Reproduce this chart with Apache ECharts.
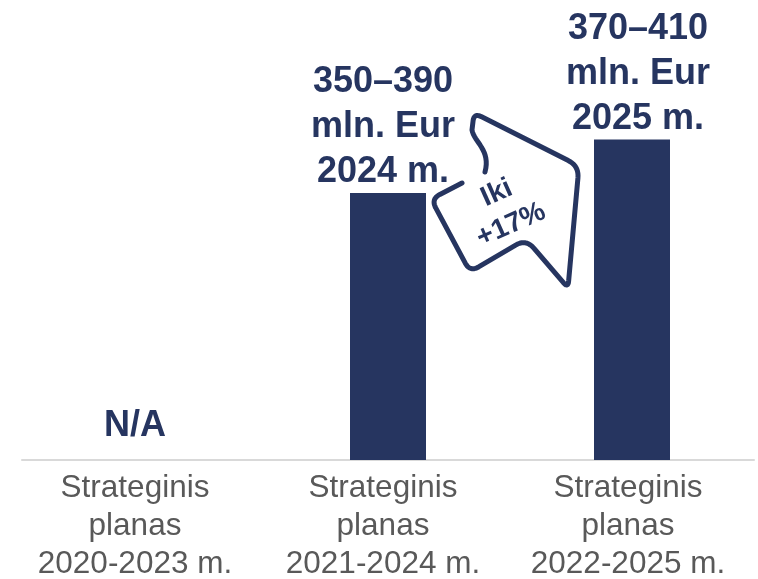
<!DOCTYPE html>
<html>
<head>
<meta charset="utf-8">
<script src="https://cdn.jsdelivr.net/npm/echarts@6/dist/echarts.min.js"></script>
<style>
html,body{margin:0;padding:0;background:#fff;}
#c{width:758px;height:579px;}
</style>
</head>
<body>
<div id="c"></div>
<script>
const categories = ['Strateginis\nplanas\n2020-2023 m.', 'Strateginis\nplanas\n2021-2024 m.', 'Strateginis\nplanas\n2022-2025 m.'];
const barValues = [null, 370, 390];
const valueLabels = ['N/A', '350–390\nmln. Eur\n2024 m.', '370–410\nmln. Eur\n2025 m.'];
const changeText = 'Iki\n+17%';

const NAVY = '#263560';
const FONT = "'Liberation Sans', Arial, sans-serif";
const yMin = 270, yMax = 440;
const labelShift = [-9, -5, 6];
const catShift = [-9, -5, -4];

const chart = echarts.init(document.getElementById('c'), null, {renderer: 'canvas'});

const seriesData = barValues.map((v, i) => {
  if (v === null) {
    return {value: yMin, label: {show: true, formatter: valueLabels[i], distance: 11, offset: [labelShift[i], 0]}};
  }
  return {value: v, label: {show: true, formatter: valueLabels[i], distance: -2, offset: [labelShift[i], 0]}};
});

const xData = categories.map((c, i) => ({value: c, textStyle: {padding: [0, -2 * catShift[i], 0, 0]}}));

// arrow outline helper (rounded corners)
function roundedPolyline(pts, radii) {
  const out = [pts[0]];
  for (let i = 1; i < pts.length - 1; i++) {
    const a = pts[i - 1], p = pts[i], b = pts[i + 1];
    const r = radii[i] || 0;
    const da = Math.hypot(a[0] - p[0], a[1] - p[1]);
    const db = Math.hypot(b[0] - p[0], b[1] - p[1]);
    const ra = Math.min(r, da / 2), rb = Math.min(r, db / 2);
    const p1 = [p[0] + (a[0] - p[0]) * ra / da, p[1] + (a[1] - p[1]) * ra / da];
    const p2 = [p[0] + (b[0] - p[0]) * rb / db, p[1] + (b[1] - p[1]) * rb / db];
    const n = 10;
    for (let k = 0; k <= n; k++) {
      const t = k / n;
      out.push([
        (1 - t) * (1 - t) * p1[0] + 2 * (1 - t) * t * p[0] + t * t * p2[0],
        (1 - t) * (1 - t) * p1[1] + 2 * (1 - t) * t * p[1] + t * t * p2[1]
      ]);
    }
  }
  out.push(pts[pts.length - 1]);
  return out;
}
function cubic(p0, c1, c2, p3, n) {
  const out = [];
  for (let k = 1; k <= n; k++) {
    const t = k / n, u = 1 - t;
    out.push([
      u*u*u*p0[0] + 3*u*u*t*c1[0] + 3*u*t*t*c2[0] + t*t*t*p3[0],
      u*u*u*p0[1] + 3*u*u*t*c1[1] + 3*u*t*t*c2[1] + t*t*t*p3[1]
    ]);
  }
  return out;
}
const arrowCorners = [[462,183],[431,199],[470,272],[526,239],[568,288],[579,166],[474,113],[472,130]];
const arrowRadii = [0,10,10,12,7,12,8,0];
let arrowPts = roundedPolyline(arrowCorners, arrowRadii);
arrowPts = arrowPts.concat(cubic([472,130],[474,142],[491,150],[485,172], 16));

chart.setOption({
  animation: false,
  textStyle: {fontFamily: FONT},
  grid: {left: 22, right: 4, top: 6, bottom: 119, containLabel: false, outerBoundsMode: 'none'},
  xAxis: {
    type: 'category',
    data: xData,
    axisLine: {show: true, lineStyle: {color: '#d9d9d9', width: 2}},
    axisTick: {show: false},
    axisLabel: {interval: 0, color: '#595959', fontSize: 31.5, lineHeight: 38, margin: 9, fontFamily: FONT}
  },
  yAxis: {
    type: 'value', min: yMin, max: yMax, show: false, splitLine: {show: false}
  },
  series: [{
    type: 'bar',
    data: seriesData,
    barWidth: 76,
    itemStyle: {color: NAVY},
    label: {
      show: true, position: 'top', color: NAVY, fontSize: 36, fontWeight: 'bold',
      lineHeight: 45, fontFamily: FONT, align: 'center'
    }
  }],
  graphic: [
    {
      type: 'polyline',
      shape: {points: arrowPts},
      style: {stroke: NAVY, lineWidth: 5, fill: null, lineCap: 'round', lineJoin: 'round'},
      z: 10
    },
    {
      type: 'text',
      x: 504, y: 209,
      rotation: 0.42,
      style: {
        text: changeText, fill: NAVY, font: "bold 28px 'Liberation Sans', Arial, sans-serif",
        align: 'center', verticalAlign: 'middle', lineHeight: 35
      },
      z: 10
    }
  ]
});
</script>
</body>
</html>
